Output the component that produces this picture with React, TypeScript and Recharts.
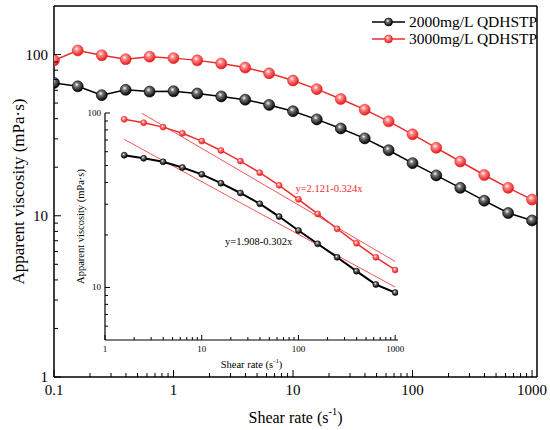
import React from 'react';
import { LineChart, Line, XAxis, YAxis, ReferenceLine, ReferenceDot } from 'recharts';

// shear rate (1/s) and apparent viscosity (mPa·s)
const shearRate = [0.1, 0.158, 0.251, 0.398, 0.631, 1, 1.58, 2.51, 3.98, 6.31, 10, 15.8, 25.1, 39.8, 63.1, 100, 158, 251, 398, 631, 1000];
const visc2000 = [66.7, 63.5, 56, 60.4, 58.9, 59.2, 57.3, 55, 52.5, 48.7, 44.5, 39.6, 34.8, 30.2, 25.5, 21.2, 17.8, 14.9, 12.4, 10.4, 9.35];
const visc3000 = [92, 106, 99, 93.5, 97, 95, 92, 88, 83, 76.5, 69, 61, 53, 45.5, 38.5, 32, 26.4, 21.7, 17.9, 14.9, 12.6];

// inset starts at 1.58 1/s
const insetStart = 6;

// power-law fit lines (end points on the inset)
const fit3000X = [2.4, 1000];
const fit3000Y = [99.6, 14.1];
const fit2000X = [1.58, 1000];
const fit2000Y = [70.6, 10.05];

const mainXMajor = [0.1, 1, 10, 100, 1000];
const mainXMinor = [0.2, 0.3, 0.4, 0.5, 0.6, 0.7, 0.8, 0.9, 2, 3, 4, 5, 6, 7, 8, 9, 20, 30, 40, 50, 60, 70, 80, 90, 200, 300, 400, 500, 600, 700, 800, 900];
const mainYMajor = [1, 10, 100];
const mainYMinor = [2, 3, 4, 5, 6, 7, 8, 9, 20, 30, 40, 50, 60, 70, 80, 90];

const insetXMajor = [1, 10, 100, 1000];
const insetXMinor = [2, 3, 4, 5, 6, 7, 8, 9, 20, 30, 40, 50, 60, 70, 80, 90, 200, 300, 400, 500, 600, 700, 800, 900];
const insetYMajor = [10, 100];
const insetYMinor = [6, 7, 8, 9, 20, 30, 40, 50, 60, 70, 80, 90];

const RED = '#ee2b2b';
const FONT = '"Liberation Serif", "Times New Roman", serif';

const mainData = shearRate.map((x, i) => ({ x, a: visc2000[i], b: visc3000[i] }));
const insetData = mainData.slice(insetStart);
const fit3000 = fit3000X.map((x, i) => ({ x, f: fit3000Y[i] }));
const fit2000 = fit2000X.map((x, i) => ({ x, f: fit2000Y[i] }));

// ticks drawn inward, label only on majors (tickSize/tickMargin are 0 so x/y sit on the axis line)
const bottomTick = (majors: number[], fontSize: number, major: number, minor: number, gap: number) => (props: any) => {
  const { x, y, payload } = props;
  const isMajor = majors.includes(payload.value);
  return (
    <g>
      <line x1={x} x2={x} y1={y} y2={y - (isMajor ? major : minor)} stroke="#000" strokeWidth={1} />
      {isMajor && (
        <text x={x} y={y + gap} textAnchor="middle" dominantBaseline="central" fontSize={fontSize} fontFamily={FONT} fill="#000">
          {String(payload.value)}
        </text>
      )}
    </g>
  );
};

const leftTick = (majors: number[], fontSize: number, major: number, minor: number, gap: number) => (props: any) => {
  const { x, y, payload } = props;
  const isMajor = majors.includes(payload.value);
  return (
    <g>
      <line x1={x} x2={x + (isMajor ? major : minor)} y1={y} y2={y} stroke="#000" strokeWidth={1} />
      {isMajor && (
        <text x={x - gap} y={y} textAnchor="end" dominantBaseline="central" fontSize={fontSize} fontFamily={FONT} fill="#000">
          {String(payload.value)}
        </text>
      )}
    </g>
  );
};

const YTitle = ({ viewBox, dx, fontSize }: any) => {
  const cx = viewBox.x + dx;
  const cy = viewBox.y + viewBox.height / 2;
  return (
    <text x={cx} y={cy} transform={`rotate(-90 ${cx} ${cy})`} textAnchor="middle" dominantBaseline="central" fontSize={fontSize} fontFamily={FONT} fill="#000">
      Apparent viscosity (mPa·s)
    </text>
  );
};

const XTitle = ({ viewBox, dy, fontSize }: any) => {
  const cx = viewBox.x + viewBox.width / 2;
  const cy = viewBox.y + dy;
  return (
    <text x={cx} y={cy} textAnchor="middle" dominantBaseline="central" fontSize={fontSize} fontFamily={FONT} fill="#000">
      Shear rate (s
      <tspan dy={-fontSize * 0.4} fontSize={fontSize * 0.65}>-1</tspan>
      <tspan dy={fontSize * 0.4}>)</tspan>
    </text>
  );
};

const ball = (grad: string, r: number, stroke: string) => (p: any) => (
  <circle key={p.index} cx={p.cx} cy={p.cy} r={r} fill={`url(#${grad})`} stroke={stroke} strokeWidth={0.6} />
);

const Gradients = ({ prefix }: { prefix: string }) => (
  <defs>
    <radialGradient id={`${prefix}Black`} cx="40%" cy="35%" r="65%">
      <stop offset="0%" stopColor="#ffffff" />
      <stop offset="30%" stopColor="#777" />
      <stop offset="100%" stopColor="#000" />
    </radialGradient>
    <radialGradient id={`${prefix}Red`} cx="40%" cy="35%" r="65%">
      <stop offset="0%" stopColor="#ffffff" />
      <stop offset="30%" stopColor="#ff8a8a" />
      <stop offset="100%" stopColor="#e01818" />
    </radialGradient>
  </defs>
);

const LegendIcon = ({ color, grad }: { color: string; grad: string }) => (
  <svg width={33} height={12} style={{ marginRight: 4, flex: 'none' }}>
    <line x1={0} x2={33} y1={6} y2={6} stroke={color} strokeWidth={1.5} />
    <circle cx={16.5} cy={6} r={4} fill={`url(#${grad})`} stroke={color} strokeWidth={0.6} />
  </svg>
);

const App: React.FC = () => {
  return (
    <div style={{ position: 'relative', width: 550, height: 430, background: '#fff' }}>
      <style>{'body{margin:0}'}</style>
      <LineChart width={550} height={430} data={mainData} margin={{ top: 6, right: 13, left: 0, bottom: 0 }}>
        <Gradients prefix="m" />
        <XAxis
          dataKey="x"
          type="number"
          scale="log"
          domain={[0.1, 1100]}
          allowDataOverflow
          ticks={[...mainXMajor, ...mainXMinor]}
          interval={0}
          tickSize={0}
          tickMargin={0}
          tickLine={false}
          tick={bottomTick(mainXMajor, 15, 7, 4, 13)}
          axisLine={{ stroke: '#000', strokeWidth: 1.5 }}
          height={53}
          label={<XTitle dy={40} fontSize={16} />}
        />
        <YAxis
          type="number"
          scale="log"
          domain={[1, 200]}
          allowDataOverflow
          ticks={[...mainYMajor, ...mainYMinor]}
          interval={0}
          tickSize={0}
          tickMargin={0}
          tickLine={false}
          tick={leftTick(mainYMajor, 15, 7, 4, 6)}
          axisLine={{ stroke: '#000', strokeWidth: 1.5 }}
          width={54}
          label={<YTitle dx={18} fontSize={17} />}
        />
        <ReferenceLine y={200} stroke="#000" strokeWidth={1.5} />
        <ReferenceLine x={1100} stroke="#000" strokeWidth={1.5} />
        <Line dataKey="a" stroke="#000" strokeWidth={1.5} dot={ball('mBlack', 5.5, '#000')} isAnimationActive={false} />
        <Line dataKey="b" stroke={RED} strokeWidth={1.5} dot={ball('mRed', 5.5, RED)} isAnimationActive={false} />
      </LineChart>

      <div style={{ position: 'absolute', left: 372, top: 13, fontFamily: FONT, fontSize: '15.5px', lineHeight: '17px', color: '#000', whiteSpace: 'nowrap' }}>
        <div style={{ display: 'flex', alignItems: 'center' }}>
          <LegendIcon color="#000" grad="mBlack" />
          <span>2000mg/L QDHSTP</span>
        </div>
        <div style={{ display: 'flex', alignItems: 'center' }}>
          <LegendIcon color={RED} grad="mRed" />
          <span>3000mg/L QDHSTP</span>
        </div>
      </div>

      <div style={{ position: 'absolute', left: 60, top: 105 }}>
        <LineChart width={345} height={275} data={insetData} margin={{ top: 8, right: 7, left: 0, bottom: 0 }}>
          <Gradients prefix="i" />
          <XAxis
            dataKey="x"
            type="number"
            scale="log"
            domain={[1, 1070]}
            allowDataOverflow
            ticks={[...insetXMajor, ...insetXMinor]}
            interval={0}
            tickSize={0}
            tickMargin={0}
            tickLine={false}
            tick={bottomTick(insetXMajor, 9, 5, 3, 9)}
            axisLine={{ stroke: '#000', strokeWidth: 1.2 }}
            height={40}
            label={<XTitle dy={24} fontSize={10.5} />}
          />
          <YAxis
            type="number"
            scale="log"
            domain={[5, 100]}
            allowDataOverflow
            ticks={[...insetYMajor, ...insetYMinor]}
            interval={0}
            tickSize={0}
            tickMargin={0}
            tickLine={false}
            tick={leftTick(insetYMajor, 9, 5, 3, 4)}
            axisLine={{ stroke: '#000', strokeWidth: 1.2 }}
            width={45}
            label={<YTitle dx={20} fontSize={10.5} />}
          />
          <Line data={fit2000} dataKey="f" stroke={RED} strokeWidth={0.8} dot={false} isAnimationActive={false} />
          <Line data={fit3000} dataKey="f" stroke={RED} strokeWidth={0.8} dot={false} isAnimationActive={false} />
          <Line dataKey="a" stroke="#000" strokeWidth={2} dot={ball('iBlack', 3, '#000')} isAnimationActive={false} />
          <Line dataKey="b" stroke={RED} strokeWidth={1.5} dot={ball('iRed', 3, RED)} isAnimationActive={false} />
          <ReferenceDot x={207} y={37.2} r={0} ifOverflow="visible"
            label={{ value: 'y=2.121-0.324x', position: 'center', fontSize: 10.5, fontFamily: FONT, fill: RED }} />
          <ReferenceDot x={38.8} y={18.5} r={0} ifOverflow="visible"
            label={{ value: 'y=1.908-0.302x', position: 'center', fontSize: 10.5, fontFamily: FONT, fill: '#000' }} />
        </LineChart>
      </div>
    </div>
  );
};

export default App;
